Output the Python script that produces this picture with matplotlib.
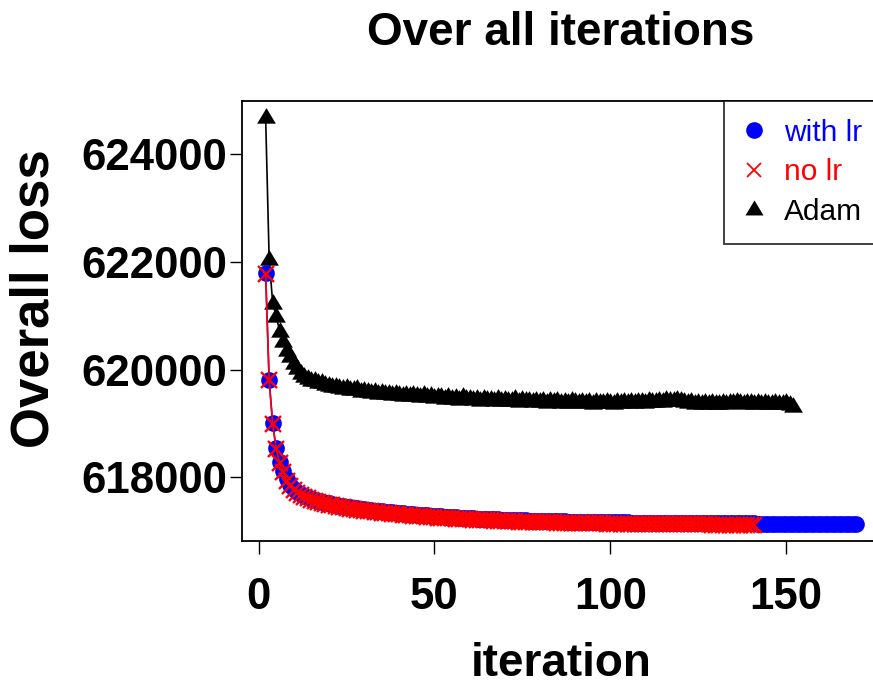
import matplotlib

matplotlib.use("Agg")
import matplotlib.pyplot as plt  # noqa: E402
import numpy as np  # noqa: E402
from matplotlib.lines import Line2D  # noqa: E402

plt.rcParams["font.family"] = ["Liberation Sans", "DejaVu Sans"]

# overall loss per iteration (iterations start at 2)
first_iter = 2
with_lr = [
    621790, 619810, 619000, 618540, 618280, 618110, 617960, 617860, 617790, 617735,
    617695, 617660, 617632, 617607, 617585, 617565, 617547, 617531, 617516, 617502,
    617489, 617477, 617466, 617455, 617444, 617434, 617424, 617415, 617406, 617398,
    617390, 617382, 617375, 617368, 617361, 617354, 617348, 617342, 617336, 617330,
    617324, 617318, 617313, 617308, 617303, 617298, 617293, 617288, 617283, 617278,
    617274, 617270, 617266, 617262, 617258, 617254, 617250, 617246, 617242, 617239,
    617236, 617233, 617230, 617227, 617224, 617221, 617218, 617215, 617212, 617210,
    617208, 617206, 617204, 617202, 617200, 617198, 617196, 617194, 617192, 617190,
    617189, 617187, 617186, 617184, 617183, 617181, 617180, 617179, 617177, 617176,
    617175, 617174, 617173, 617172, 617170, 617169, 617168, 617167, 617166, 617165,
    617164, 617163, 617162, 617162, 617161, 617160, 617159, 617159, 617158, 617157,
    617157, 617156, 617155, 617155, 617154, 617154, 617153, 617153, 617152, 617152,
    617151, 617151, 617150, 617150, 617149, 617149, 617148, 617148, 617147, 617147,
    617147, 617146, 617146, 617146, 617145, 617145, 617145, 617144, 617144, 617144,
    617143, 617143, 617143, 617142, 617142, 617142, 617141, 617141, 617141, 617140,
    617140, 617140, 617139, 617139, 617139, 617138, 617138, 617138, 617138, 617137,
    617137, 617137, 617137, 617136, 617136, 617136, 617135, 617135, 617135,
]
no_lr = [
    621780, 619800, 618990, 618530, 618265, 618095, 617940, 617840, 617770, 617715,
    617673, 617638, 617609, 617583, 617561, 617541, 617523, 617507, 617492, 617478,
    617465, 617453, 617442, 617431, 617420, 617410, 617400, 617391, 617382, 617374,
    617366, 617358, 617351, 617344, 617337, 617330, 617324, 617318, 617312, 617306,
    617300, 617294, 617289, 617284, 617279, 617274, 617269, 617264, 617259, 617254,
    617250, 617246, 617242, 617238, 617234, 617230, 617226, 617222, 617218, 617215,
    617212, 617209, 617206, 617203, 617200, 617197, 617194, 617191, 617188, 617186,
    617184, 617182, 617180, 617178, 617176, 617174, 617172, 617170, 617168, 617166,
    617165, 617163, 617162, 617160, 617159, 617157, 617156, 617155, 617153, 617152,
    617151, 617150, 617149, 617148, 617146, 617145, 617144, 617143, 617142, 617141,
    617140, 617139, 617138, 617138, 617137, 617136, 617135, 617135, 617134, 617133,
    617133, 617132, 617131, 617131, 617130, 617130, 617129, 617129, 617128, 617128,
    617127, 617127, 617126, 617126, 617125, 617125, 617125, 617124, 617124, 617124,
    617123, 617123, 617123, 617122, 617122, 617122, 617121, 617121, 617121, 617121,
]
adam = [
    624680, 622060, 621240, 620990, 620710, 620525, 620370, 620250, 620125, 620030,
    619940, 619880, 619850, 619810, 619800, 619760, 619770, 619730, 619720, 619690,
    619700, 619670, 619660, 619670, 619640, 619630, 619650, 619610, 619620, 619600,
    619590, 619610, 619570, 619580, 619560, 619570, 619550, 619560, 619540, 619530,
    619550, 619520, 619540, 619530, 619510, 619540, 619500, 619520, 619490, 619510,
    619500, 619480, 619510, 619470, 619490, 619460, 619500, 619470, 619480, 619460,
    619470, 619440, 619480, 619450, 619460, 619430, 619470, 619440, 619450, 619430,
    619440, 619470, 619420, 619450, 619430, 619440, 619410, 619440, 619420, 619430,
    619400, 619430, 619410, 619440, 619400, 619420, 619390, 619430, 619410, 619400,
    619420, 619390, 619410, 619380, 619420, 619400, 619390, 619410, 619400, 619380,
    619410, 619390, 619420, 619400, 619410, 619390, 619420, 619410, 619400, 619430,
    619410, 619420, 619440, 619420, 619450, 619430, 619440, 619460, 619430, 619420,
    619400, 619410, 619380, 619390, 619370, 619390, 619380, 619400, 619380, 619370,
    619390, 619380, 619400, 619390, 619410, 619390, 619380, 619400, 619390, 619370,
    619390, 619380, 619400, 619380, 619370, 619390, 619380, 619370, 619390, 619360,
    619330,
]
x_ticks = [0, 50, 100, 150]
y_ticks = [618000, 620000, 622000, 624000]
labels = ["with lr", "no lr", "Adam"]
colors = ["blue", "red", "black"]

# R-like pch 17 triangle (wider than tall)
tri = [(-1.0, -0.66), (1.0, -0.66), (0.0, 1.0)]

fig = plt.figure(figsize=(8.73, 6.85), dpi=100)
ax = fig.add_axes([242 / 873, 144 / 685, 638 / 873, 440 / 685])

it_adam = np.arange(first_iter, first_iter + len(adam))
it_lr = np.arange(first_iter, first_iter + len(with_lr))
it_nolr = np.arange(first_iter, first_iter + len(no_lr))

ax.plot(it_adam, adam, color="black", linewidth=1.2, marker=tri, markersize=13.5,
        markeredgewidth=0, zorder=2)
ax.plot(it_lr, with_lr, color="blue", linewidth=1.2, marker="o", markersize=12,
        markeredgewidth=0, zorder=3)
ax.plot(it_nolr, no_lr, color="red", linewidth=1.2, marker="x", markersize=11,
        markeredgewidth=1.7, zorder=4)

ax.margins(x=0.04, y=0.04)
ax.set_xticks(x_ticks)
ax.set_yticks(y_ticks)
ax.set_xticklabels([str(v) for v in x_ticks], fontsize=31.5, fontweight="bold")
ax.set_yticklabels([str(v) for v in y_ticks], fontsize=31.5, fontweight="bold")
ax.tick_params(direction="out", length=9, width=1.0, pad=1.5)
ax.tick_params(axis="x", pad=17)
for sp in ax.spines.values():
    sp.set_linewidth(1.3)

ax.set_xlabel("iteration", fontsize=33, fontweight="bold", labelpad=17)
ax.set_ylabel("Overall loss", fontsize=38, fontweight="bold")
ax.yaxis.set_label_coords(-0.286, 0.55)
ax.set_title("Over all iterations", fontsize=33, fontweight="bold", pad=40)

handles = [
    Line2D([], [], linestyle="none", marker="o", color="blue", markersize=12, markeredgewidth=0),
    Line2D([], [], linestyle="none", marker="x", color="red", markersize=10, markeredgewidth=1.3),
    Line2D([], [], linestyle="none", marker=tri, color="black", markersize=13, markeredgewidth=0),
]
leg = ax.legend(handles, labels, loc="upper right", fontsize=21.5, frameon=True,
                fancybox=False, borderaxespad=0, handlelength=0.8, handletextpad=0.6,
                labelspacing=0.38, borderpad=0.6)
leg.get_frame().set_edgecolor("black")
leg.get_frame().set_linewidth(1.3)
for txt, c in zip(leg.get_texts(), colors):
    txt.set_color(c)

fig.savefig("out.png", dpi=100)
